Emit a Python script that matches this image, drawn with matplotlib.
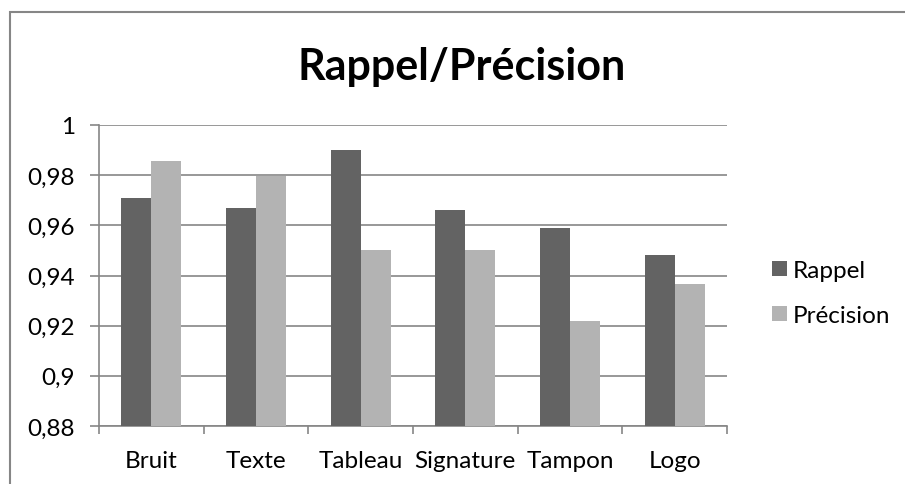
import numpy as np
import matplotlib
matplotlib.use("Agg")
import matplotlib.pyplot as plt
from matplotlib.patches import Rectangle

categories = ["Bruit", "Texte", "Tableau", "Signature", "Tampon", "Logo"]
rappel = [0.971, 0.967, 0.990, 0.966, 0.959, 0.948]
precision = [0.9858, 0.9798, 0.950, 0.950, 0.922, 0.9365]
yticks = [0.88, 0.90, 0.92, 0.94, 0.96, 0.98, 1.0]
ytick_labels = ["0,88", "0,9", "0,92", "0,94", "0,96", "0,98", "1"]

plt.rcParams['font.family'] = ['Lato', 'DejaVu Sans']

W, H = 905, 485
fig = plt.figure(figsize=(W / 100, H / 100), dpi=100)
# plot area in pixel coords: x 99..727, y 126..427
ax = fig.add_axes([99 / W, 1 - 427 / H, (727 - 99) / W, (427 - 126) / H])

x = np.arange(len(categories))
bw = 0.287
ax.bar(x - bw / 2, rappel, bw, color="#636363", label="Rappel", zorder=3)
ax.bar(x + bw / 2, precision, bw, color="#b3b3b3", label="Précision", zorder=3)

ax.set_ylim(0.88, 1.0)
ax.set_xlim(-0.5, len(categories) - 0.5)
ax.set_yticks(yticks)
ax.set_yticklabels(ytick_labels, fontsize=17.5)
ax.yaxis.grid(True, color="#868686", linewidth=1.2, zorder=0)

# category labels centred, tick marks at boundaries
ax.set_xticks(np.arange(-0.5, len(categories)), minor=False)
ax.set_xticklabels([])
ax.set_xticks(x, minor=True)
ax.set_xticklabels(categories, minor=True, fontsize=17.5)
ax.tick_params(axis="x", which="minor", length=0, pad=17)
ax.tick_params(axis="x", which="major", length=6, color="#868686", width=1.2)
ax.tick_params(axis="y", length=6.5, color="#868686", width=1.2, pad=11)

for s in ["top", "right"]:
    ax.spines[s].set_visible(False)
for s in ["left", "bottom"]:
    ax.spines[s].set_color("#868686")
    ax.spines[s].set_linewidth(1.2)

fig.text(462 / W, 1 - 67 / H, "Rappel/Précision", ha="center", va="center",
         fontsize=31, fontweight="bold")

ax.legend(loc="center left", bbox_to_anchor=(755 / W, 1 - 294 / H),
          bbox_transform=fig.transFigure, frameon=False, fontsize=17.5,
          handlelength=0.6, handleheight=0.6, handletextpad=0.25,
          labelspacing=1.0, borderpad=0.2)

# outer chart frame
fig.patches.append(Rectangle((10 / W, -0.1), 1.2, 1 - 13 / H + 0.1,
                             transform=fig.transFigure, fill=False,
                             edgecolor="#868686", linewidth=1.5))

fig.savefig("out.png", dpi=100)
